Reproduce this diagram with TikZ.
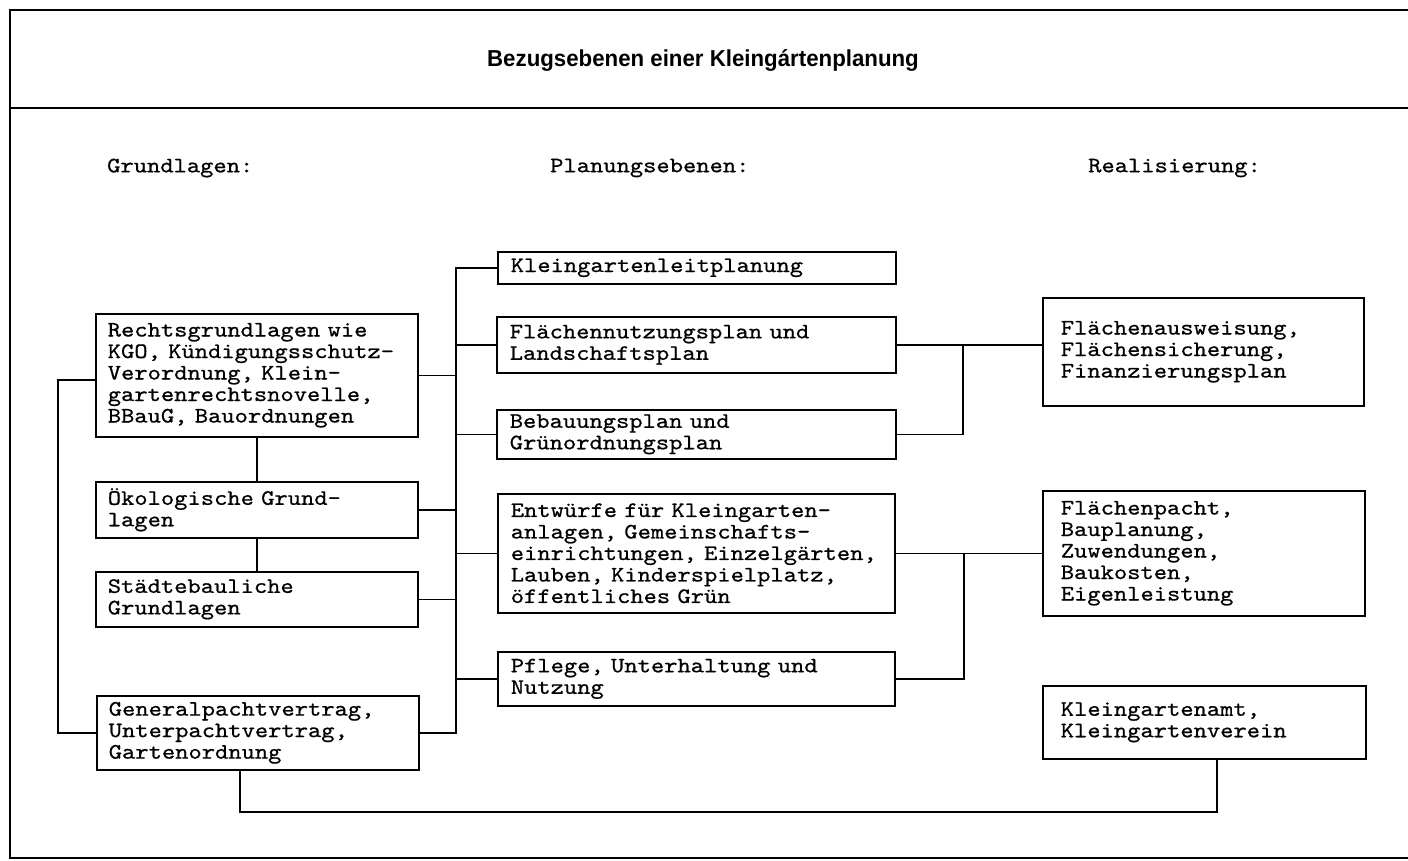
\documentclass[tikz,border=0pt]{standalone}
\usepackage{graphicx}
\usepackage{fontspec}
\setmainfont{Liberation Sans}
\newfontfamily\tw{lmmono10-regular.otf}[FakeStretch=1.15, FakeBold=0.7]
\tikzset{
  frame/.style={line width=1.8pt},
  conn/.style={line width=1.6pt},
  box/.style={draw, line width=1.6pt, anchor=north west, inner ysep=0pt, inner xsep=12pt,
    align=left, font=\tw\fontsize{22}{21.5}\selectfont},
  rbox/.style={box, inner xsep=18pt},
  head/.style={anchor=west, inner sep=0pt, font=\tw\fontsize{22}{21.5}\selectfont}
}
\begin{document}
\begin{tikzpicture}[x=1pt,y=-1pt]
\useasboundingbox (0,0) rectangle (1408,860);
% frame
\draw[frame] (1408,10) -- (10,10) -- (10,858) -- (1408,858);
\draw[frame] (10,108) -- (1408,108);
% title
\node[inner sep=0pt] (title) at (703,60) {\fontsize{21}{21}\selectfont\bfseries\scalebox{1.06}[1.1]{Bezugsebenen einer Kleingártenplanung}};
% headers
\node[head] (h1) at (107,168) {Grundlagen:};
\node[head] (h2) at (550,168) {Planungsebenen:};
\node[head] (h3) at (1088,168) {Realisierung:};
% left column
\node[box, text width=298pt, minimum height=123pt] (R) at (95,313)
  {Rechtsgrundlagen wie\\KGO, Kündigungsschutz-\\Verordnung, Klein-\\gartenrechtsnovelle,\\BBauG, Bauordnungen};
\node[box, text width=298pt, minimum height=56pt] (O) at (95,481)
  {Ökologische Grund-\\lagen};
\node[box, text width=298pt, minimum height=55pt] (S) at (95,571)
  {Städtebauliche\\Grundlagen};
\node[box, text width=298pt, minimum height=74pt] (G) at (96,695)
  {Generalpachtvertrag,\\Unterpachtvertrag,\\Gartenordnung};
% middle column
\node[box, inner xsep=13pt, text width=372pt, minimum height=32pt] (P1) at (497,251)
  {Kleingartenleitplanung};
\node[box, inner xsep=13pt, text width=373pt, minimum height=56pt] (P2) at (496,316)
  {Flächennutzungsplan und\\Landschaftsplan};
\node[box, inner xsep=13pt, text width=373pt, minimum height=49pt] (P3) at (496,409)
  {Bebauungsplan und\\Grünordnungsplan};
\node[box, inner xsep=13pt, text width=371pt, minimum height=119pt] (P4) at (497,493)
  {Entwürfe für Kleingarten-\\anlagen, Gemeinschafts-\\einrichtungen, Einzelgärten,\\Lauben, Kinderspielplatz,\\öffentliches Grün};
\node[box, inner xsep=13pt, text width=371pt, minimum height=54pt] (P5) at (497,651)
  {Pflege, Unterhaltung und\\Nutzung};
% right column
\node[rbox, text width=285pt, minimum height=108pt] (Q1) at (1042,297)
  {Flächenausweisung,\\Flächensicherung,\\Finanzierungsplan};
\node[rbox, text width=286pt, minimum height=125pt] (Q2) at (1042,490)
  {Flächenpacht,\\Bauplanung,\\Zuwendungen,\\Baukosten,\\Eigenleistung};
\node[rbox, text width=287pt, minimum height=73pt] (Q3) at (1042,685)
  {Kleingartenamt,\\Kleingartenverein};
% connectors
\coordinate (bx) at (456,0);
\coordinate (lx) at (58,380);
\coordinate (j1) at (963,0);
\coordinate (j2) at (964,0);
\coordinate (bl) at (240,812);
\coordinate (br) at (1217,812);
\draw[conn] (P1.west) -- (P1.west -| bx) -- (G.east -| bx) -- (G.east);
\foreach \n in {P2,P3,P4,P5} \draw[conn] (\n.west) -- (\n.west -| bx);
\foreach \n in {R,O,S} \draw[conn] (\n.east) -- (\n.east -| bx);
\draw[conn] (R.west |- lx) -- (lx) -- (G.west -| lx) -- (G.west);
\draw[conn] (R.south) -- (O.north);
\draw[conn] (O.south) -- (S.north);
\draw[conn] (G.south -| bl) -- (bl) -- (br) -- (br |- Q3.south);
\draw[conn] (P2.east) -- (P2.east -| Q1.west);
\draw[conn] (P3.east) -- (P3.east -| j1) -- (P2.east -| j1);
\draw[conn] (P4.east) -- (P4.east -| Q2.west);
\draw[conn] (P5.east) -- (P5.east -| j2) -- (P4.east -| j2);
\end{tikzpicture}
\end{document}
